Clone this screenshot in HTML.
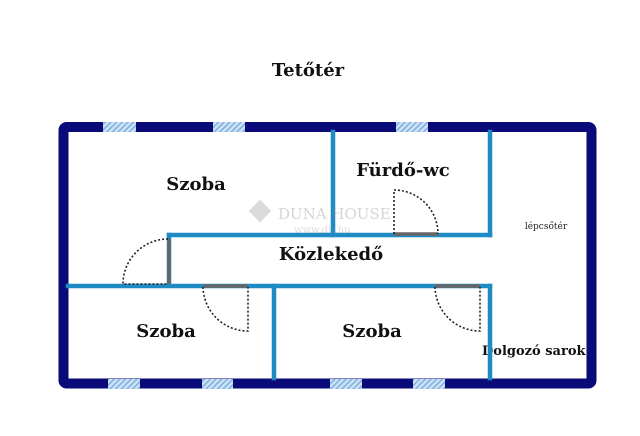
<!DOCTYPE html>
<html><head><meta charset="utf-8"><style>
html,body{margin:0;padding:0;background:#fff;}
svg{display:block;}
</style></head><body>
<svg width="640" height="436" viewBox="0 0 640 436" xmlns="http://www.w3.org/2000/svg">
<defs>
<pattern id="h" width="4" height="4" patternUnits="userSpaceOnUse" patternTransform="rotate(45)">
<rect width="4" height="4" fill="#cfe3f5"/><rect width="1.6" height="4" fill="#7fb2e0"/>
</pattern>
</defs>
<rect width="640" height="436" fill="#fff"/>
<text x="308" y="76" text-anchor="middle" font-family="DejaVu Serif, serif" font-weight="bold" font-size="18" fill="#111">Tetőtér</text>
<text x="482" y="355" font-family="DejaVu Serif, serif" font-weight="bold" font-size="13" fill="#111">Dolgozó sarok</text>
<rect x="63.5" y="127" width="528" height="256.5" fill="none" stroke="#0a0a78" stroke-width="10" rx="3"/>
<g fill="url(#h)">
<rect x="103" y="122" width="33" height="10"/>
<rect x="213" y="122" width="32" height="10"/>
<rect x="396" y="122" width="32" height="10"/>
<rect x="108" y="379" width="32" height="10"/>
<rect x="202" y="379" width="31" height="10"/>
<rect x="330" y="379" width="32" height="10"/>
<rect x="413" y="379" width="32" height="10"/>
</g>
<g stroke="#1f8bc4" stroke-width="4.5" fill="none" stroke-linecap="square">
<line x1="333" y1="132" x2="333" y2="235"/>
<line x1="490" y1="132" x2="490" y2="235"/>
<line x1="169" y1="235" x2="490" y2="235"/>
<line x1="169" y1="235" x2="169" y2="285"/>
<line x1="68" y1="286" x2="490" y2="286"/>
<line x1="490" y1="286" x2="490" y2="378"/>
<line x1="274" y1="286" x2="274" y2="378"/>
</g>
<g stroke="#666" stroke-width="3.5">
<line x1="169" y1="239" x2="169" y2="284"/>
<line x1="203" y1="286" x2="248" y2="286"/>
<line x1="394" y1="234" x2="438" y2="234"/>
<line x1="435" y1="286" x2="480" y2="286"/>
</g>
<g stroke="#222" stroke-width="1.6" fill="none" stroke-dasharray="2 2">
<path d="M168 239 A45 45 0 0 0 123 284 L168 284"/>
<path d="M203 287 A45 45 0 0 0 248 331 L248 287"/>
<path d="M394 234 L394 190 A44 44 0 0 1 438 234"/>
<path d="M435 287 A45 45 0 0 0 480 331 L480 287"/>
</g>
<g opacity="0.35">
<rect x="252" y="203" width="16" height="16" transform="rotate(45 260 211)" fill="#999"/>
<text x="278" y="219" font-family="DejaVu Serif, serif" font-size="15" fill="#888">DUNA HOUSE</text>
<text x="294" y="233" font-family="DejaVu Serif, serif" font-size="10" fill="#999">www.dh.hu</text>
</g>
<g font-family="DejaVu Serif, serif" font-weight="bold" fill="#111">
<text x="196" y="190" text-anchor="middle" font-size="18">Szoba</text>
<text x="403" y="176" text-anchor="middle" font-size="18">Fürdő-wc</text>
<text x="331" y="260" text-anchor="middle" font-size="18">Közlekedő</text>
<text x="166" y="337" text-anchor="middle" font-size="18">Szoba</text>
<text x="372" y="337" text-anchor="middle" font-size="18">Szoba</text>
</g>
<text x="546" y="229" text-anchor="middle" font-family="DejaVu Serif, serif" font-size="9" fill="#222">lépcsőtér</text>
</svg>
</body></html>
